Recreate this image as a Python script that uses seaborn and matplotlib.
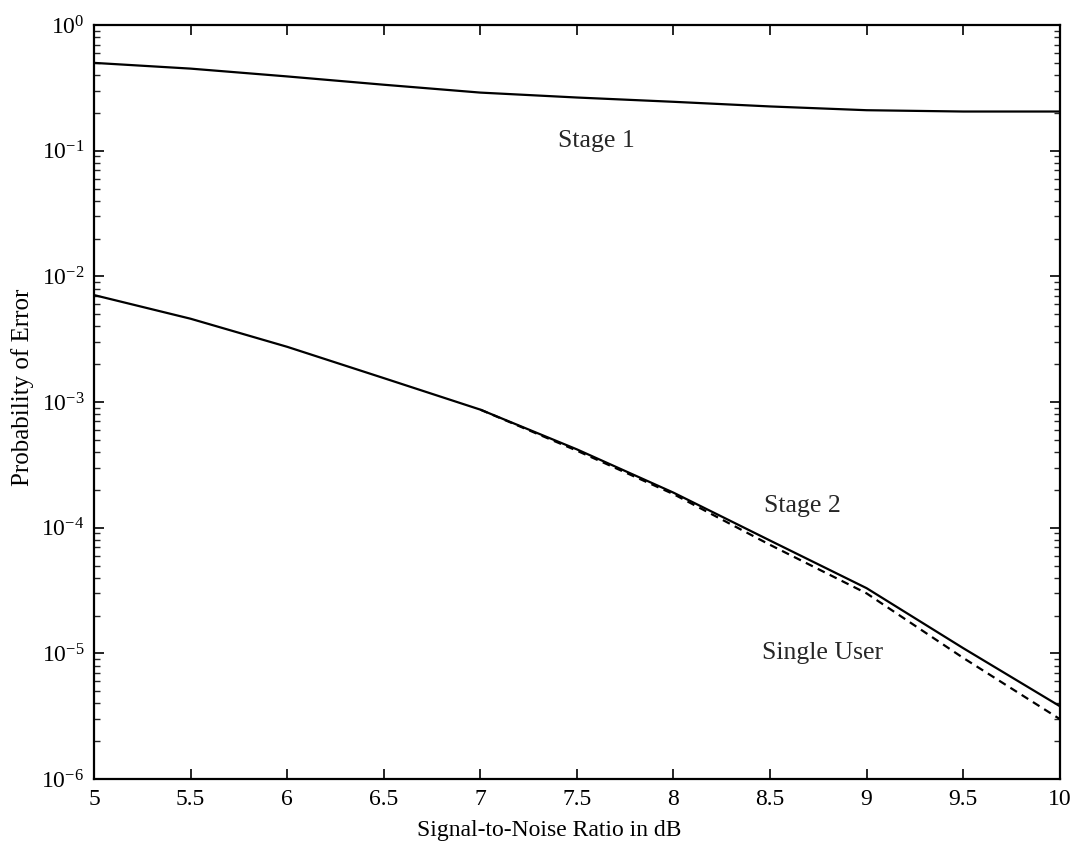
import numpy as np
import pandas as pd
import matplotlib
matplotlib.use("Agg")
import matplotlib.pyplot as plt
import seaborn as sns
from matplotlib.ticker import LogLocator, FixedLocator

# ---- data ----
snr = [5.0, 5.5, 6.0, 6.5, 7.0, 7.5, 8.0, 8.5, 9.0, 9.5, 10.0]
stage1 = [0.50, 0.45, 0.39, 0.335, 0.29, 0.265, 0.245, 0.225, 0.21, 0.205, 0.205]
stage2 = [7.1e-3, 4.6e-3, 2.75e-3, 1.55e-3, 8.7e-4, 4.2e-4, 1.9e-4, 7.9e-5, 3.3e-5, 1.1e-5, 3.8e-6]
snr_single = [7.0, 7.5, 8.0, 8.5, 9.0, 9.5, 10.0]
single_user = [8.7e-4, 4.1e-4, 1.85e-4, 7.3e-5, 3.0e-5, 9.2e-6, 3.0e-6]
xticks = [5, 5.5, 6, 6.5, 7, 7.5, 8, 8.5, 9, 9.5, 10]
xtick_labels = ["5", "5.5", "6", "6.5", "7", "7.5", "8", "8.5", "9", "9.5", "10"]

sns.set_theme(style="ticks")
plt.rcParams["font.family"] = ["Liberation Serif", "DejaVu Serif"]
plt.rcParams["mathtext.fontset"] = "custom"
plt.rcParams["mathtext.rm"] = "Liberation Serif"
plt.rcParams["axes.unicode_minus"] = False

fig = plt.figure(figsize=(10.77, 8.46), dpi=100)
ax = fig.add_axes([0.0873, 0.0792, 0.8967, 0.8912])

sns.lineplot(x=snr, y=stage1, color="black", linewidth=1.6, ax=ax)
sns.lineplot(x=snr, y=stage2, color="black", linewidth=1.6, ax=ax)
sns.lineplot(x=snr_single, y=single_user, color="black", linewidth=1.6,
             linestyle=(0, (3.5, 2.5)), ax=ax)

ax.set_yscale("log")
ax.set_xlim(5, 10)
ax.set_ylim(1e-6, 1)
ax.xaxis.set_major_locator(FixedLocator(xticks))
ax.set_xticklabels(xtick_labels)
ax.yaxis.set_major_locator(LogLocator(base=10, numticks=10))
ax.yaxis.set_minor_locator(LogLocator(base=10, subs=np.arange(2, 10), numticks=20))

ax.tick_params(axis="both", which="major", direction="in", length=7, width=1.2,
               top=True, right=True, labelsize=17, colors="black", pad=7)
ax.tick_params(axis="y", which="minor", direction="in", length=4, width=1.0,
               left=True, right=True)
for s in ax.spines.values():
    s.set_linewidth(1.6)
    s.set_color("black")

ax.set_xlabel("Signal-to-Noise Ratio in dB", fontsize=17, color="black")
ax.xaxis.set_label_coords(0.471, -0.054)
ax.set_ylabel("Probability of Error", fontsize=18, color="black")
ax.yaxis.set_label_coords(-0.062, 0.52)

ax.text(7.40, 0.12, "Stage 1", fontsize=18.5, va="center", ha="left")
ax.text(8.47, 1.5e-4, "Stage 2", fontsize=18.5, va="center", ha="left")
ax.text(8.46, 1.0e-5, "Single User", fontsize=18.5, va="center", ha="left")

fig.savefig("out.png", dpi=100, facecolor="white")
